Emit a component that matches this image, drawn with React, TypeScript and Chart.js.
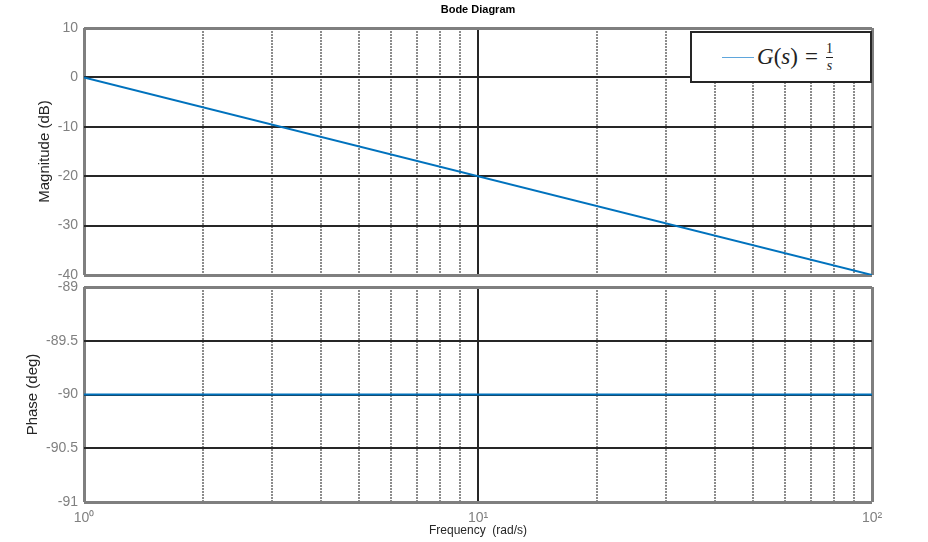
import React, { useEffect, useRef } from "react";
import { Chart, registerables } from "chart.js";

Chart.register(...registerables);

// ---- data ----
const frequency = [1, 100];
const magnitudeDb = [0, -40];
const phaseDeg = [-90, -90];
const freqGridTicks = [1, 2, 3, 4, 5, 6, 7, 8, 9, 10, 20, 30, 40, 50, 60, 70, 80, 90, 100];
const majorFreqTicks = [1, 10, 100];
const xTickLabels = ["10\u2070", "10\u00B9", "10\u00B2"];
const magTicks = [10, 0, -10, -20, -30, -40];
const phaseTicks = [-89, -89.5, -90, -90.5, -91];

const BLUE = "#0072BD";
const DARK = "#262626";
const FRAME = "#7f7f7f";
const MINOR = "#8c8c8c";
const TICK = "#808080";
const FONT = '"Liberation Sans", Arial, sans-serif';

function xScale(showLabels: boolean, height: number) {
  return {
    type: "logarithmic" as const,
    min: 1,
    max: 100,
    position: "bottom" as const,
    afterBuildTicks: (s: any) => {
      s.ticks = freqGridTicks.map((value) => ({ value }));
    },
    afterFit: (s: any) => {
      s.height = height;
    },
    grid: {
      drawTicks: false,
      color: (ctx: any) => {
        const v = ctx.tick ? ctx.tick.value : 0;
        if (v === 1 || v === 100) return FRAME;
        if (v === 10) return DARK;
        return MINOR;
      },
      lineWidth: (ctx: any) => {
        const v = ctx.tick ? ctx.tick.value : 0;
        if (v === 1 || v === 100) return 3;
        return 2;
      },
    },
    border: {
      display: false,
      dash: (ctx: any) => {
        const v = ctx.tick ? ctx.tick.value : 1;
        return majorFreqTicks.includes(v) ? [] : [2, 1];
      },
    },
    ticks: {
      display: showLabels,
      autoSkip: false,
      maxRotation: 0,
      padding: 8,
      color: TICK,
      font: { family: FONT, size: 14 },
      callback: (v: any) => {
        const i = majorFreqTicks.indexOf(Number(v));
        return i >= 0 ? xTickLabels[i] : "";
      },
    },
    title: {
      display: showLabels,
      text: "Frequency  (rad/s)",
      color: DARK,
      font: { family: FONT, size: 12 },
      padding: { top: 0, bottom: 4 },
    },
  };
}

function yScale(min: number, max: number, ticks: number[], width: number, title: string) {
  return {
    type: "linear" as const,
    min,
    max,
    afterBuildTicks: (s: any) => {
      s.ticks = ticks.map((value) => ({ value }));
    },
    afterFit: (s: any) => {
      s.width = width;
    },
    grid: {
      drawTicks: false,
      color: (ctx: any) => {
        const v = ctx.tick ? ctx.tick.value : 0;
        return v === min || v === max ? FRAME : DARK;
      },
      lineWidth: (ctx: any) => {
        const v = ctx.tick ? ctx.tick.value : 0;
        return v === min || v === max ? 3 : 2;
      },
    },
    border: { display: false },
    ticks: {
      padding: 6,
      color: TICK,
      font: { family: FONT, size: 14 },
      callback: (v: any) => String(v),
    },
    title: {
      display: true,
      text: title,
      color: DARK,
      font: { family: FONT, size: 15 },
      padding: 0,
    },
  };
}

function useChart(ref: React.RefObject<HTMLCanvasElement>, makeConfig: () => any) {
  useEffect(() => {
    if (!ref.current) return;
    const chart = new Chart(ref.current, makeConfig());
    return () => chart.destroy();
  }, []);
}

export default function App() {
  const topRef = useRef<HTMLCanvasElement>(null);
  const botRef = useRef<HTMLCanvasElement>(null);

  useChart(topRef, () => ({
    type: "line",
    data: {
      datasets: [
        {
          label: "G(s) = 1/s",
          data: frequency.map((f, i) => ({ x: f, y: magnitudeDb[i] })),
          borderColor: BLUE,
          borderWidth: 2,
          pointRadius: 0,
          fill: false,
        },
      ],
    },
    options: {
      responsive: false,
      animation: false,
      layout: { padding: { left: 36, right: 56, top: 0, bottom: 0 } },
      plugins: {
        legend: { display: false },
        tooltip: { enabled: false },
        title: {
          display: true,
          text: "Bode Diagram",
          fullSize: false,
          color: "#000",
          font: { family: FONT, size: 11, weight: "bold" },
          padding: { top: 3, bottom: 11.8 },
        },
      },
      scales: {
        x: xScale(false, 15),
        y: yScale(-40, 10, magTicks, 48, "Magnitude (dB)"),
      },
    },
  }));

  useChart(botRef, () => ({
    type: "line",
    data: {
      datasets: [
        {
          label: "phase",
          data: frequency.map((f, i) => ({ x: f, y: phaseDeg[i] })),
          borderColor: BLUE,
          borderWidth: 2,
          pointRadius: 0,
          fill: false,
        },
      ],
    },
    options: {
      responsive: false,
      animation: false,
      layout: { padding: { left: 24, right: 56, top: 17, bottom: 0 } },
      plugins: {
        legend: { display: false },
        tooltip: { enabled: false },
      },
      scales: {
        x: xScale(true, 40),
        y: yScale(-91, -89, phaseTicks, 60, "Phase (deg)"),
      },
    },
  }));

  return (
    <div
      style={{
        position: "fixed",
        left: 0,
        top: 0,
        width: 928,
        height: 542,
        background: "#fff",
        overflow: "hidden",
      }}
    >
      <canvas
        ref={topRef}
        width={928}
        height={290}
        style={{ position: "absolute", left: 0, top: 0, width: 928, height: 290 }}
      />
      <canvas
        ref={botRef}
        width={928}
        height={272}
        style={{ position: "absolute", left: 0, top: 270, width: 928, height: 272 }}
      />
      <div
        style={{
          position: "absolute",
          left: 690,
          top: 31,
          width: 182,
          height: 52,
          boxSizing: "border-box",
          border: "2px solid " + DARK,
          background: "#fff",
          display: "flex",
          alignItems: "center",
        }}
      >
        <span
          style={{
            display: "inline-block",
            width: 32,
            height: 0,
            borderTop: "1px solid #5fa6dc",
            marginLeft: 30,
            marginRight: 3,
          }}
        />
        <span
          style={{
            fontFamily: '"Liberation Serif", "DejaVu Serif", serif',
            fontSize: 23,
            color: "#222",
            display: "inline-flex",
            alignItems: "center",
            whiteSpace: "nowrap",
          }}
        >
          <i>G</i>(<i>s</i>)<span style={{ margin: "0 7px" }}>=</span>
          <span
            style={{
              display: "inline-flex",
              flexDirection: "column",
              alignItems: "center",
              fontSize: 14,
              lineHeight: 1,
            }}
          >
            <span style={{ padding: "0 1px 1px" }}>1</span>
            <span style={{ borderTop: "1px solid #222", padding: "1px 1px 0" }}>
              <i>s</i>
            </span>
          </span>
        </span>
      </div>
    </div>
  );
}
